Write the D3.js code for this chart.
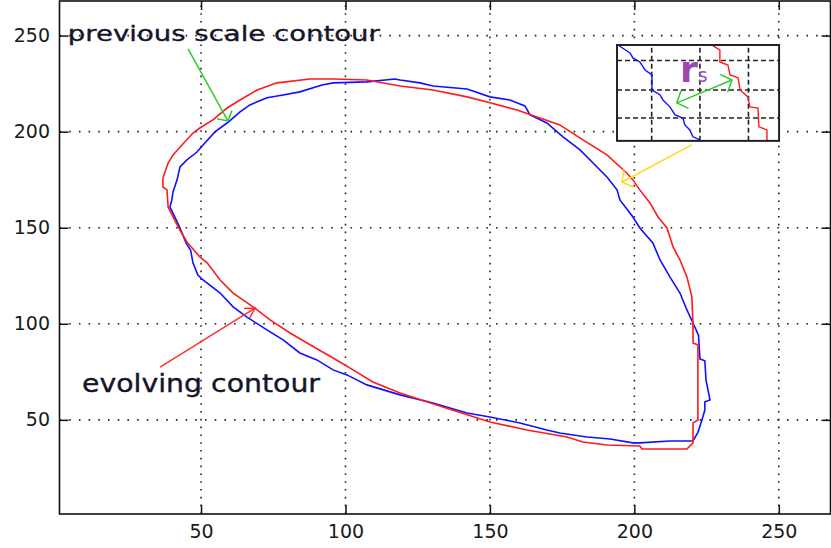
<!DOCTYPE html>
<html>
<head>
<meta charset="utf-8">
<script src="https://cdn.jsdelivr.net/npm/d3@7"></script>
<style>
  body { margin: 0; background: #fff; }
  svg { display: block; }
</style>
</head>
<body>
<svg id="chart" width="831" height="548"></svg>
<script>
// tick values
const xTicks = [50, 100, 150, 200, 250];
const yTicks = [50, 100, 150, 200, 250];

// evolving contour (blue)
const blueContour = [
  [39.2, 160.8], [39.9, 164.5], [40.3, 168.6], [41.7, 174.9], [42.7, 181.6], [45.1, 185.3],
  [48.6, 189.4], [50.7, 193.1], [54.8, 199.9], [59.0, 204.5], [63.5, 210.3], [66.9, 213.9],
  [72.8, 217.6], [78.4, 219.1], [84.2, 220.7], [91.9, 224.3], [95.7, 225.4], [107.4, 225.9],
  [117.1, 227.4], [118.9, 226.9], [125.8, 225.4], [130.3, 223.8], [142.1, 222.2], [150.0, 218.1],
  [156.9, 216.5], [162.1, 213.4], [163.9, 208.7], [169.7, 204.5], [175.3, 197.3], [181.2, 190.5],
  [185.7, 183.7], [190.5, 176.4], [194.0, 169.7], [195.0, 164.5], [199.5, 155.6], [201.9, 149.9],
  [206.4, 142.1], [208.9, 133.2], [212.3, 124.4], [215.8, 116.0], [218.2, 107.2], [220.3, 100.4],
  [222.2, 94.0], [222.7, 81.7], [224.4, 80.7], [224.8, 70.8], [226.2, 60.3], [224.4, 59.4],
  [224.4, 55.1], [223.4, 49.9], [222.0, 43.5], [220.3, 39.0], [212.3, 39.0], [201.9, 38.0],
  [199.5, 38.0], [191.6, 40.0], [183.6, 41.1], [174.2, 43.2], [169.7, 44.7], [160.4, 48.4],
  [150.0, 51.5], [142.1, 53.6], [130.3, 58.8], [118.9, 63.0], [107.4, 68.2], [100.5, 73.4],
  [95.7, 76.0], [90.1, 81.2], [84.2, 84.8], [78.4, 91.6], [72.8, 96.8], [65.9, 103.5],
  [61.1, 108.8], [56.6, 116.0], [50.7, 122.8], [48.9, 125.4], [47.2, 131.7], [46.4, 138.3],
  [44.8, 142.1], [42.7, 149.9], [40.9, 155.6], [39.9, 158.8], [39.2, 160.8]
];

// previous scale contour (red)
const redContour = [
  [36.8, 175.9], [38.6, 183.7], [40.3, 187.9], [43.4, 193.1], [47.2, 199.3], [49.6, 201.9],
  [54.1, 206.1], [59.0, 212.3], [63.5, 216.5], [69.4, 221.7], [76.3, 225.4], [87.7, 227.4],
  [95.7, 227.4], [107.4, 226.9], [118.9, 223.8], [130.3, 221.7], [142.1, 218.1], [150.0, 215.0],
  [159.4, 211.3], [167.3, 207.1], [174.2, 203.5], [182.2, 195.7], [190.5, 187.9], [197.4, 178.5],
  [199.5, 174.9], [201.9, 169.7], [205.4, 162.9], [208.2, 155.6], [211.3, 149.9], [213.4, 140.0],
  [215.8, 133.2], [218.2, 124.4], [219.9, 114.0], [220.3, 100.4], [220.3, 90.0], [222.0, 89.0],
  [222.0, 70.8], [222.0, 49.9], [220.3, 48.4], [220.3, 38.0], [218.2, 34.8], [202.6, 34.8],
  [201.9, 36.4], [190.5, 36.9], [182.2, 38.5], [176.7, 41.1], [162.8, 44.7], [150.0, 48.9],
  [133.7, 56.7], [118.9, 64.0], [109.5, 69.7], [102.6, 76.0], [95.7, 82.2], [86.7, 90.0],
  [80.8, 95.2], [73.9, 102.0], [68.0, 108.8], [61.1, 116.0], [56.6, 122.8], [52.1, 131.7],
  [49.6, 134.8], [45.1, 142.6], [42.7, 148.8], [40.3, 155.6], [38.6, 160.8], [38.2, 169.7],
  [36.8, 171.2], [36.8, 175.9]
];

// inset (close-up sketch)
const insetBox = [194.0, 195.2, 250.1, 245.1];          // x0, y0, x1, y1
const insetCols = [206.0, 222.7, 239.5];
const insetRows = [207.1, 221.7, 237.0];
const insetBlue = [
  [194.3, 245.1], [198.5, 241.0], [199.5, 238.4], [201.9, 236.3], [203.7, 232.1], [206.1, 229.5],
  [206.1, 221.7], [208.9, 219.1], [209.9, 216.5], [212.3, 212.9], [214.1, 208.7], [216.8, 207.1],
  [217.5, 203.5], [219.2, 200.9], [220.3, 197.3], [222.7, 195.7]
];
const insetRed = [
  [227.2, 244.6], [229.6, 242.5], [229.6, 236.3], [232.4, 234.7], [233.1, 229.5], [235.9, 228.0],
  [236.6, 221.7], [239.3, 218.1], [240.0, 212.9], [242.8, 212.3], [243.1, 202.5], [245.9, 200.9],
  [245.9, 195.7]
];

// arrows: [tailX, tailY, tipX, tipY]
const greenArrow = [45.5, 243.1, 59.3, 205.6];
const redArrow = [35.8, 77.5, 68.7, 108.2];
const yellowArrow = [219.9, 193.1, 195.7, 173.8];
const rsArrow = [214.7, 215.0, 233.8, 226.9];

// labels: [text, x, y]
const prevLabel = ['previous scale contour', 3.9, 247.2];
const evolLabel = ['evolving contour', 8.8, 64.5];
const rsLabel = [215.8, 225.9];

const svg = d3.select('#chart');

const x = d3.scaleLinear().domain([1, 267.9]).range([59.5, 830.5]);
const y = d3.scaleLinear().domain([1, 268]).range([514, 1]);

const font = '"DejaVu Sans", Verdana, sans-serif';

// grid
svg.append('g')
  .selectAll('line')
  .data(xTicks)
  .join('line')
  .attr('x1', d => x(d)).attr('x2', d => x(d))
  .attr('y1', y.range()[0]).attr('y2', y.range()[1])
  .attr('stroke', '#222')
  .attr('stroke-width', 1.6)
  .attr('stroke-dasharray', '1.6,6.2');

svg.append('g')
  .selectAll('line')
  .data(yTicks)
  .join('line')
  .attr('y1', d => y(d)).attr('y2', d => y(d))
  .attr('x1', x.range()[0]).attr('x2', x.range()[1])
  .attr('stroke', '#222')
  .attr('stroke-width', 1.6)
  .attr('stroke-dasharray', '1.6,8.1');

// axes (ticks pointing inward)
const axBottom = svg.append('g')
  .attr('transform', `translate(0,${y.range()[0]})`)
  .call(d3.axisBottom(x).tickValues(xTicks).tickSize(-9).tickPadding(11));
const axLeft = svg.append('g')
  .attr('transform', `translate(${x.range()[0]},0)`)
  .call(d3.axisLeft(y).tickValues(yTicks).tickSize(-9).tickPadding(9.5));
const axTop = svg.append('g')
  .attr('transform', `translate(0,${y.range()[1]})`)
  .call(d3.axisTop(x).tickValues(xTicks).tickSize(-9).tickFormat(''));
const axRight = svg.append('g')
  .attr('transform', `translate(${x.range()[1]},0)`)
  .call(d3.axisRight(y).tickValues(yTicks).tickSize(-9).tickFormat(''));

[axBottom, axLeft, axTop, axRight].forEach(a => {
  a.select('.domain').remove();
  a.selectAll('.tick line').attr('stroke', '#111').attr('stroke-width', 1.5);
  a.selectAll('.tick text')
    .style('font-family', font)
    .style('font-size', '19px')
    .attr('fill', '#1a1a1a');
});

svg.append('rect')
  .attr('x', x.range()[0]).attr('y', y.range()[1])
  .attr('width', x.range()[1] - x.range()[0])
  .attr('height', y.range()[0] - y.range()[1])
  .attr('fill', 'none')
  .attr('stroke', '#111')
  .attr('stroke-width', 1.6);

// contours
const line = d3.line().x(d => x(d[0])).y(d => y(d[1]));

svg.append('path')
  .attr('d', line(blueContour))
  .attr('fill', 'none')
  .attr('stroke', '#1010ff')
  .attr('stroke-width', 1.6);

svg.append('path')
  .attr('d', line(redContour))
  .attr('fill', 'none')
  .attr('stroke', '#ff1a1a')
  .attr('stroke-width', 1.6);

// arrows
function arrow(a, color, len, angle, both) {
  const g = svg.append('g')
    .attr('stroke', color)
    .attr('stroke-width', 1.5)
    .attr('fill', 'none');
  const x1 = x(a[0]), y1 = y(a[1]), x2 = x(a[2]), y2 = y(a[3]);
  g.append('line').attr('x1', x1).attr('y1', y1).attr('x2', x2).attr('y2', y2);
  const head = (tx, ty, fx, fy) => {
    const ang = Math.atan2(fy - ty, fx - tx);
    const r = angle * Math.PI / 180;
    const p1 = [tx + len * Math.cos(ang + r), ty + len * Math.sin(ang + r)];
    const p2 = [tx + len * Math.cos(ang - r), ty + len * Math.sin(ang - r)];
    g.append('path').attr('d', `M${p1}L${tx},${ty}L${p2}`);
  };
  head(x2, y2, x1, y1);
  if (both) head(x1, y1, x2, y2);
}

arrow(greenArrow, '#2fcc2f', 11, 50, false);
arrow(redArrow, '#ff3030', 11, 30, false);
arrow(yellowArrow, '#ffd820', 13, 52, false);

// inset
svg.append('rect')
  .attr('x', x(insetBox[0])).attr('y', y(insetBox[3]))
  .attr('width', x(insetBox[2]) - x(insetBox[0]))
  .attr('height', y(insetBox[1]) - y(insetBox[3]))
  .attr('fill', '#fff');

const inset = svg.append('g');
inset.selectAll('.col')
  .data(insetCols)
  .join('line')
  .attr('class', 'col')
  .attr('x1', d => x(d)).attr('x2', d => x(d))
  .attr('y1', y(insetBox[1])).attr('y2', y(insetBox[3]))
  .attr('stroke', '#222').attr('stroke-width', 1.6)
  .attr('stroke-dasharray', '5,3');
inset.selectAll('.row')
  .data(insetRows)
  .join('line')
  .attr('class', 'row')
  .attr('y1', d => y(d)).attr('y2', d => y(d))
  .attr('x1', x(insetBox[0])).attr('x2', x(insetBox[2]))
  .attr('stroke', '#222').attr('stroke-width', 1.6)
  .attr('stroke-dasharray', '5,3');

inset.append('path')
  .attr('d', line(insetBlue))
  .attr('fill', 'none').attr('stroke', '#1010ff').attr('stroke-width', 1.4);
inset.append('path')
  .attr('d', line(insetRed))
  .attr('fill', 'none').attr('stroke', '#ff1a1a').attr('stroke-width', 1.4);

svg.append('rect')
  .attr('x', x(insetBox[0])).attr('y', y(insetBox[3]))
  .attr('width', x(insetBox[2]) - x(insetBox[0]))
  .attr('height', y(insetBox[1]) - y(insetBox[3]))
  .attr('fill', 'none')
  .attr('stroke', '#222')
  .attr('stroke-width', 2);

arrow(rsArrow, '#2fcc2f', 13, 48, true);

const rs = svg.append('text')
  .attr('x', x(rsLabel[0])).attr('y', y(rsLabel[1]))
  .attr('fill', '#9a48ae')
  .style('font-family', font);
rs.append('tspan').text('r').style('font-size', '36px').style('font-weight', 'bold');
rs.append('tspan').text('s').style('font-size', '19px').attr('fill', '#a050b8');

// annotation texts
svg.append('text')
  .attr('x', x(prevLabel[1])).attr('y', y(prevLabel[2]))
  .attr('textLength', 312)
  .attr('lengthAdjust', 'spacingAndGlyphs')
  .attr('fill', '#15152a')
  .attr('stroke', '#15152a')
  .attr('stroke-width', 0.35)
  .style('font-family', font)
  .style('font-size', '22px')
  .text(prevLabel[0]);

svg.append('text')
  .attr('x', x(evolLabel[1])).attr('y', y(evolLabel[2]))
  .attr('textLength', 238)
  .attr('lengthAdjust', 'spacingAndGlyphs')
  .attr('fill', '#15152a')
  .attr('stroke', '#15152a')
  .attr('stroke-width', 0.35)
  .style('font-family', font)
  .style('font-size', '24px')
  .text(evolLabel[0]);
</script>
</body>
</html>
